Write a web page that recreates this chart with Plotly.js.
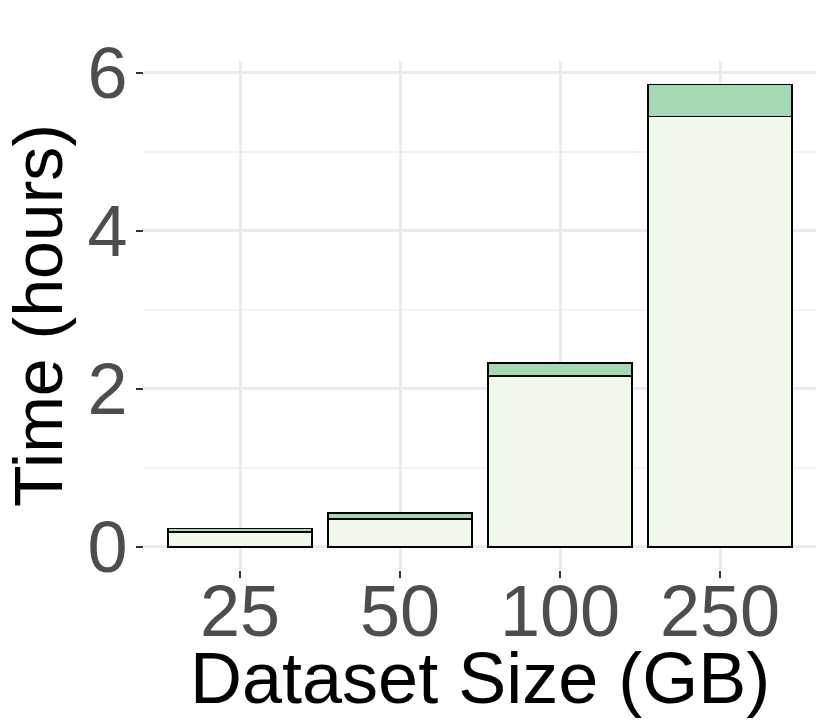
<!DOCTYPE html>
<html>
<head>
<meta charset="utf-8">
<script src="https://cdn.plot.ly/plotly-3.0.1.min.js"></script>
<style>html,body{margin:0;padding:0;background:#fff;}#chart{width:830px;height:727px;}</style>
</head>
<body>
<div id="chart"></div>
<script>
// Data
const categories = ['25', '50', '100', '250'];
const baseHours = [0.19, 0.35, 2.16, 5.45];
const extraHours = [0.04, 0.08, 0.17, 0.40];
const yTickValues = [0, 2, 4, 6];
const yTickLabels = ['0', '2', '4', '6'];
const xTitle = 'Dataset Size (GB)';
const yTitle = 'Time (hours)';

const FONT = '"Liberation Sans", Arial, Helvetica, sans-serif';

const traces = [
  {
    type: 'bar', name: 'Base', x: categories, y: baseHours,
    marker: {color: '#F0F8E7', line: {color: '#000000', width: 1.5}},
    width: 0.9, hoverinfo: 'x+y'
  },
  {
    type: 'bar', name: 'Extra', x: categories, y: extraHours,
    marker: {color: '#A3DAB4', line: {color: '#000000', width: 1.5}},
    width: 0.9, hoverinfo: 'x+y'
  }
];

const layout = {
  width: 830, height: 727,
  barmode: 'stack',
  showlegend: false,
  paper_bgcolor: '#ffffff', plot_bgcolor: '#ffffff',
  margin: {l: 144, r: 14, t: 61, b: 157},
  font: {family: FONT, color: '#4D4D4D'},
  xaxis: {
    type: 'category',
    range: [-0.6, 3.6],
    showgrid: true, gridcolor: '#EBEBEB', gridwidth: 3,
    zeroline: false, showline: false,
    ticks: 'outside', ticklen: 7, tickwidth: 2, tickcolor: '#333333',
    ticklabelstandoff: -28,
    tickfont: {family: FONT, size: 72, color: '#4D4D4D'},
    automargin: false
  },
  yaxis: {
    range: [-0.293, 6.15],
    tickvals: yTickValues, ticktext: yTickLabels,
    showgrid: true, gridcolor: '#EBEBEB', gridwidth: 3,
    minor: {dtick: 1, tick0: 1, showgrid: true, gridcolor: '#F2F2F2', gridwidth: 1.5, ticks: ''},
    zeroline: false, showline: false,
    ticks: 'outside', ticklen: 7, tickwidth: 2, tickcolor: '#333333',
    ticklabelstandoff: -6,
    tickfont: {family: FONT, size: 72, color: '#4D4D4D'},
    title: {text: yTitle, font: {family: FONT, size: 68, color: '#000000'}, standoff: 10},
    automargin: false
  },
  annotations: [{
    text: xTitle, xref: 'paper', yref: 'paper', x: 0.5, y: -0.212,
    xanchor: 'center', yanchor: 'middle', showarrow: false,
    font: {family: FONT, size: 72, color: '#000000'}
  }]
};

Plotly.newPlot('chart', traces, layout, {displayModeBar: false, staticPlot: true});
</script>
</body>
</html>
